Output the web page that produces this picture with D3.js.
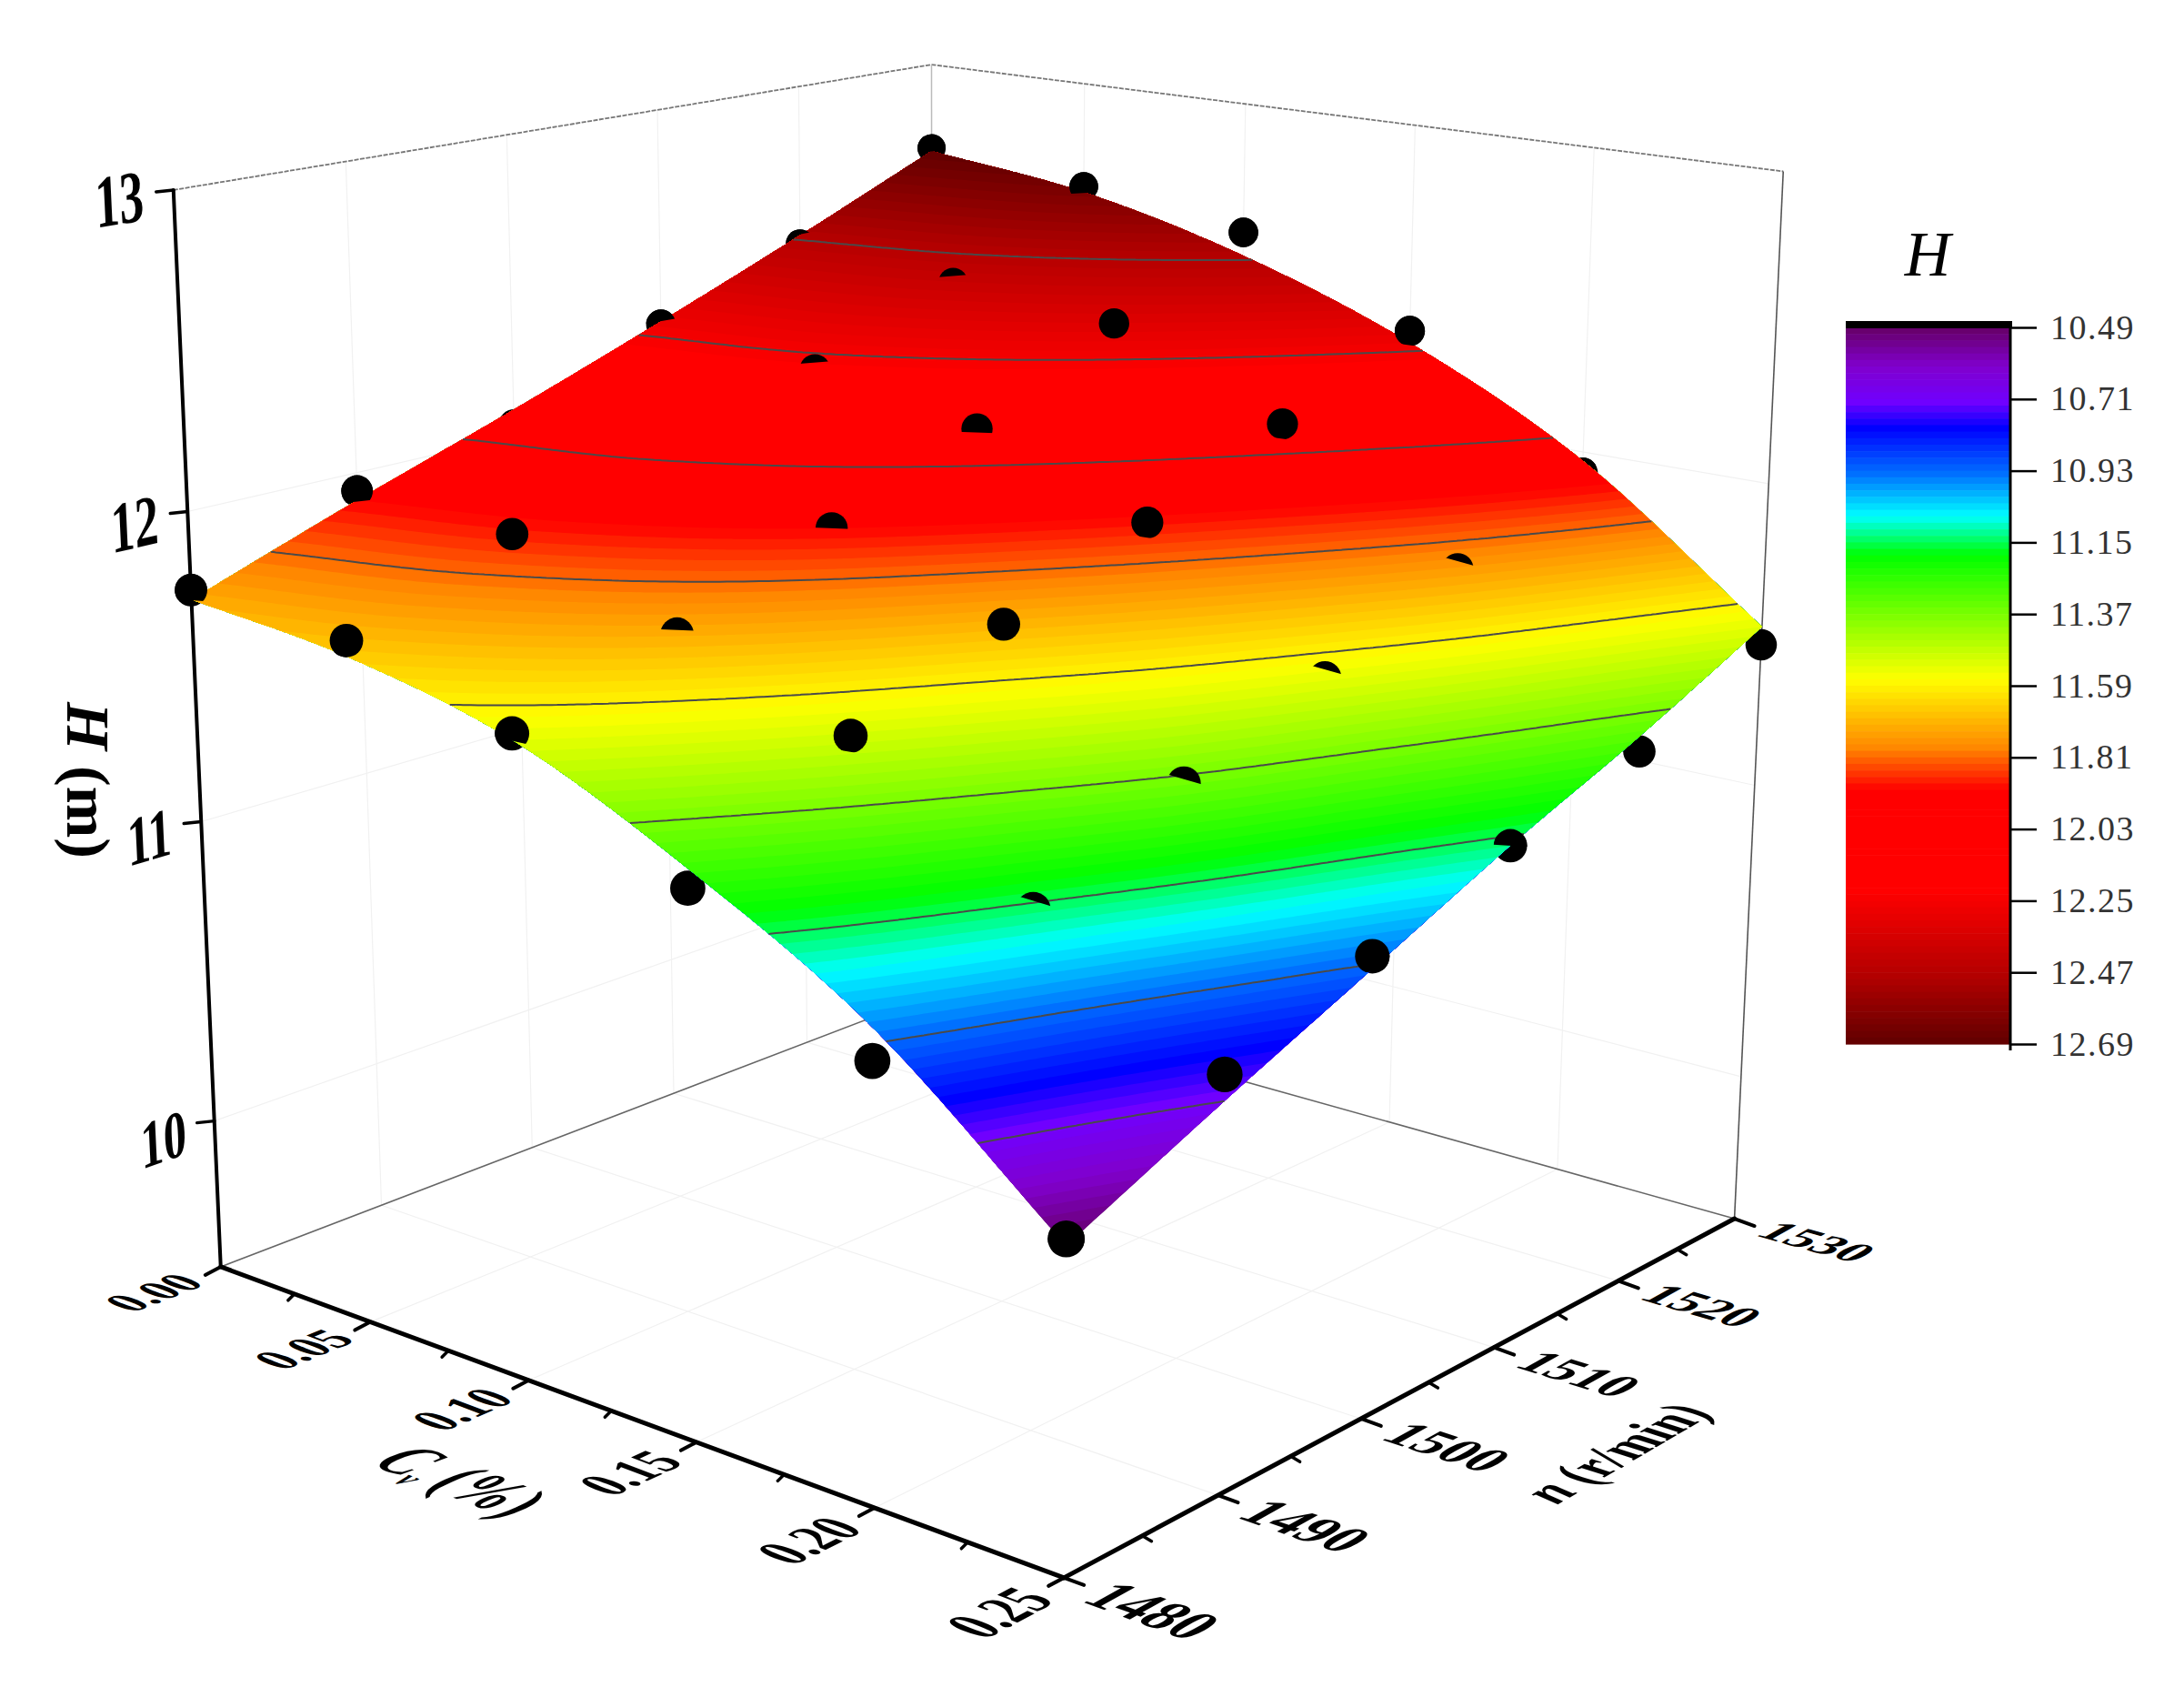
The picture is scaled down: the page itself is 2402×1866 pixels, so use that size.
<!DOCTYPE html>
<html>
<head>
<meta charset="utf-8">
<script src="https://cdn.jsdelivr.net/npm/d3@7"></script>
<style>
  body { margin: 0; background: #fff; }
  text { font-family: "Liberation Serif", serif; }
</style>
</head>
<body>
<script>
// axis ticks
const cvTicks = [0, 0.05, 0.10, 0.15, 0.20, 0.25];
const cvMinor = [0.025, 0.075, 0.125, 0.175, 0.225];
const nTicks = [1480, 1490, 1500, 1510, 1520, 1530];
const nMinor = [1485, 1495, 1505, 1515, 1525];
const hTicks = [10, 11, 12, 13];
const legendTicks = [10.49, 10.71, 10.93, 11.15, 11.37, 11.59, 11.81, 12.03, 12.25, 12.47, 12.69];

// colour map
const colorLevels = [10.49, 10.61, 10.72, 10.80, 10.94, 11.07, 11.19, 11.38, 11.57, 11.78, 11.91, 12.22, 12.49, 12.69];
const colorValues = ["#660066", "#8000cc", "#7000ff", "#0000ff", "#0070ff", "#00ffff", "#00ff00", "#80ff00", "#ffff00", "#ff8800", "#ff0000", "#ff0000", "#b00000", "#600000"];

// fitted surface, one row per n, one column per Cv
const surf1480 = [11.72, 11.66, 11.53, 11.28, 10.96, 10.49];
const surf1490 = [11.91, 11.85, 11.72, 11.48, 11.15, 10.71];
const surf1500 = [12.09, 12.04, 11.91, 11.67, 11.36, 10.92];
const surf1510 = [12.28, 12.23, 12.10, 11.87, 11.55, 11.13];
const surf1520 = [12.48, 12.42, 12.29, 12.07, 11.76, 11.32];
const surf1530 = [12.69, 12.62, 12.48, 12.27, 11.97, 11.53];
const surfaceH = [surf1480, surf1490, surf1500, surf1510, surf1520, surf1530];

// measured points, same layout
const meas1480 = [11.75, 11.71, 11.55, 11.22, 10.86, 10.51];
const meas1490 = [11.94, 11.91, 11.71, 11.52, 11.13, 10.79];
const meas1500 = [12.04, 11.98, 11.91, 11.72, 11.35, 10.96];
const meas1510 = [12.27, 12.21, 12.11, 11.91, 11.53, 11.13];
const meas1520 = [12.45, 12.40, 12.35, 12.11, 11.74, 11.27];
const meas1530 = [12.70, 12.64, 12.56, 12.31, 11.93, 11.47];
const measuredH = [meas1480, meas1490, meas1500, meas1510, meas1520, meas1530];

const width = 2402, height = 1866;

const svg = d3.select("body").append("svg")
  .attr("width", width)
  .attr("height", height)
  .style("display", "block");

// data -> unit cube
const uScale = d3.scaleLinear().domain([0, 0.25]).range([0, 1]);
const vScale = d3.scaleLinear().domain([1480, 1530]).range([0, 1]);
const wScale = d3.scaleLinear().domain([9.5, 13]).range([0, 1]);

// the camera: a perspective map fitted to where the box corners sit on the page
const cameraRefs = [
  [0, 0, 0, 242, 1391], [1, 0, 0, 1170, 1733], [1, 1, 0, 1907, 1342], [0, 1, 0, 1028, 1091],
  [0, 0, 1, 192, 207], [0, 1, 1, 1022, 72], [1, 1, 1, 1962, 188],
  [0, 0, wScale(10), 234, 1236], [0, 0, wScale(11), 221, 906], [0, 0, wScale(12), 208, 562]
];

function fitCamera(refs) {
  const rows = [], rhs = [];
  refs.forEach(([u, v, w, X, Y]) => {
    rows.push([u, v, w, 1, 0, 0, 0, 0, -X * u, -X * v, -X * w]); rhs.push(X);
    rows.push([0, 0, 0, 0, u, v, w, 1, -Y * u, -Y * v, -Y * w]); rhs.push(Y);
  });
  const n = 11;
  const M = d3.range(n).map(i => d3.range(n + 1).map(j =>
    d3.sum(rows, (r, k) => r[i] * (j < n ? r[j] : rhs[k]))));
  for (let i = 0; i < n; i++) {
    let p = i;
    for (let k = i; k < n; k++) if (Math.abs(M[k][i]) > Math.abs(M[p][i])) p = k;
    [M[i], M[p]] = [M[p], M[i]];
    for (let k = 0; k < n; k++) {
      if (k === i) continue;
      const f = M[k][i] / M[i][i];
      for (let j = i; j <= n; j++) M[k][j] -= f * M[i][j];
    }
  }
  return M.map((r, i) => r[n] / r[i]);
}
const cam = fitCamera(cameraRefs);
const depth = (u, v, w) => cam[8] * u + cam[9] * v + cam[10] * w + 1;
const project = (u, v, w) => {
  const d = depth(u, v, w);
  return [(cam[0] * u + cam[1] * v + cam[2] * w + cam[3]) / d,
          (cam[4] * u + cam[5] * v + cam[6] * w + cam[7]) / d];
};
const line3d = (a, b) => "M" + project(...a) + "L" + project(...b);

// smooth surface through the 6x6 table
function tableAt(i, j) {
  const last = surfaceH.length - 1;
  if (j < 0) return 2 * tableAt(i, 0) - tableAt(i, 1);
  if (j > last) return 2 * tableAt(i, last) - tableAt(i, last - 1);
  if (i < 0) return 2 * surfaceH[j][0] - surfaceH[j][1];
  if (i > last) return 2 * surfaceH[j][last] - surfaceH[j][last - 1];
  return surfaceH[j][i];
}
const catmull = (a, b, c, d, t) =>
  0.5 * (2 * b + (c - a) * t + (2 * a - 5 * b + 4 * c - d) * t * t + (3 * b - a - 3 * c + d) * t * t * t);
function surfaceAt(u, v) {
  const x = Math.max(0, Math.min(1, u)) * 5, y = Math.max(0, Math.min(1, v)) * 5;
  const i = Math.min(4, Math.floor(x)), j = Math.min(4, Math.floor(y));
  const row = k => catmull(tableAt(i - 1, k), tableAt(i, k), tableAt(i + 1, k), tableAt(i + 2, k), x - i);
  return catmull(row(j - 1), row(j), row(j + 1), row(j + 2), y - j);
}

// colours come in steps, as on the legend
const colorScale = d3.scaleLinear().domain(colorLevels).range(colorValues).clamp(true);
const bandCount = 110;
const bandEdges = d3.range(bandCount + 1).map(d => 10.49 + d * 2.2 / bandCount);

// --- walls and floor ---
const gridColor = "#f1f1f1";
const grid = svg.append("g").attr("fill", "none").attr("stroke", gridColor).attr("stroke-width", 1.2);
cvTicks.slice(1, -1).forEach(c => {
  const u = uScale(c);
  grid.append("path").attr("d", line3d([u, 0, 0], [u, 1, 0]));
  grid.append("path").attr("d", line3d([u, 1, 0], [u, 1, 1]));
});
nTicks.slice(1, -1).forEach(n => {
  const v = vScale(n);
  grid.append("path").attr("d", line3d([0, v, 0], [1, v, 0]));
  grid.append("path").attr("d", line3d([0, v, 0], [0, v, 1]));
});
hTicks.slice(0, -1).forEach(h => {
  const w = wScale(h);
  grid.append("path").attr("d", line3d([0, 0, w], [0, 1, w]));
  grid.append("path").attr("d", line3d([0, 1, w], [1, 1, w]));
});

const frame = svg.append("g").attr("fill", "none");
frame.append("path").attr("d", line3d([0, 0, 0], [0, 1, 0]) + line3d([0, 1, 0], [1, 1, 0]))
  .attr("stroke", "#666").attr("stroke-width", 1.6);
frame.append("path").attr("d", line3d([0, 0, 1], [0, 1, 1]) + line3d([0, 1, 1], [1, 1, 1]))
  .attr("stroke", "#777").attr("stroke-width", 1.8).attr("stroke-dasharray", "5 1.5");
frame.append("path").attr("d", line3d([0, 1, 0], [0, 1, 1])).attr("stroke", "#bbb").attr("stroke-width", 1.5);
frame.append("path").attr("d", line3d([1, 1, 0], [1, 1, 1])).attr("stroke", "#555").attr("stroke-width", 1.6);

// --- axes ---
const axes = svg.append("g").attr("fill", "none").attr("stroke", "#000").attr("stroke-linecap", "round");
axes.append("path").attr("d", line3d([0, 0, 0], [0, 0, 1])).attr("stroke-width", 4);
axes.append("path").attr("d", line3d([0, 0, 0], [1, 0, 0])).attr("stroke-width", 5);
axes.append("path").attr("d", line3d([1, 0, 0], [1, 1, 0])).attr("stroke-width", 5);

const tick = (p, dx, dy, sw) => axes.append("path")
  .attr("d", `M${p}l${dx},${dy}`).attr("stroke-width", sw);
hTicks.forEach(h => tick(project(0, 0, wScale(h)), -19, 2, 3.5));
cvTicks.forEach(c => tick(project(uScale(c), 0, 0), -17, 9, 4));
cvMinor.forEach(c => tick(project(uScale(c), 0, 0), -7, 7, 3.5));
nTicks.forEach(n => tick(project(1, vScale(n), 0), 22, 8, 4));
nMinor.forEach(n => tick(project(1, vScale(n), 0), 10, 6, 3.5));

// text lying in a plane of the box: baseline and up follow the projected directions
function planeText(text, at, baseDir, upDir, baseEm, upEm) {
  const e = 0.001;
  const diff = dir => {
    const a = project(at[0] - dir[0] * e, at[1] - dir[1] * e, at[2] - dir[2] * e);
    const b = project(at[0] + dir[0] * e, at[1] + dir[1] * e, at[2] + dir[2] * e);
    return [(b[0] - a[0]) / (2 * e), (b[1] - a[1]) / (2 * e)];
  };
  const b = diff(baseDir), up = diff(upDir), p = project(...at);
  const m = [b[0] * baseEm / 100, b[1] * baseEm / 100, -up[0] * upEm / 100, -up[1] * upEm / 100, p[0], p[1]];
  return svg.append("text")
    .attr("transform", `matrix(${m.join(",")})`)
    .attr("text-anchor", "middle")
    .attr("dy", "0.34em")
    .attr("font-size", 100)
    .attr("font-weight", "bold")
    .text(text);
}

hTicks.forEach(h => planeText(String(h), [0, -0.06, wScale(h)], [0, 1, 0], [0, 0, 1], 0.053, 0.064));
cvTicks.forEach(c => planeText(c.toFixed(2), [uScale(c), -0.08, 0], [0, 1, 0], [-1, 0, 0], 0.05, 0.065));
nTicks.forEach(n => planeText(String(n), [1.09, vScale(n), 0], [1, 0, 0], [0, 1, 0], 0.054, 0.07));

const cvTitle = planeText("", [0.505, -0.18, 0], [1, 0, 0], [0, 1, 0], 0.058, 0.08);
cvTitle.append("tspan").attr("font-style", "italic").text("C");
cvTitle.append("tspan").attr("font-style", "italic").attr("font-size", 50).attr("dy", "0.3em").text("v");
cvTitle.append("tspan").attr("dy", "-0.15em").text(" (%)");

const nTitle = planeText("", [1.204, 0.481, 0], [0, 1, 0], [-1, 0, 0], 0.062, 0.06);
nTitle.append("tspan").attr("font-style", "italic").text("n");
nTitle.append("tspan").text(" (r/min)");

const hTitle = svg.append("text")
  .attr("transform", "translate(97,858) rotate(90)")
  .attr("text-anchor", "middle")
  .attr("dy", "0.34em")
  .attr("font-size", 68)
  .attr("font-weight", "bold");
hTitle.append("tspan").attr("font-style", "italic").text("H");
hTitle.append("tspan").text(" (m)");

// --- measured points ---
const points = [];
measuredH.forEach((row, j) => row.forEach((h, i) => {
  points.push({ id: `p${i}_${j}`, u: uScale(cvTicks[i]), v: vScale(nTicks[j]), w: wScale(h) });
}));
const radius = d => 17.2 / depth(d.u, d.v, d.w);

// whole discs go under the surface, so what sticks out past its edge stays visible
svg.append("g").selectAll("circle").data(points).enter().append("circle")
  .attr("cx", d => project(d.u, d.v, d.w)[0])
  .attr("cy", d => project(d.u, d.v, d.w)[1])
  .attr("r", radius)
  .attr("fill", "#000");

// --- surface, stacked from low to high ---
const nx = 201, ny = 201;
const dense = new Float64Array(nx * ny);
for (let j = 0; j < ny; j++) {
  for (let i = 0; i < nx; i++) dense[i + j * nx] = surfaceAt(i / (nx - 1), j / (ny - 1));
}
const contours = d3.contours().size([nx, ny]);
const toCube = c => {
  const a = Math.max(0, Math.min(1, (c[0] - 0.5) / (nx - 1)));
  const b = Math.max(0, Math.min(1, (c[1] - 0.5) / (ny - 1)));
  return [a, b];
};
const ringPath = ring => "M" + ring.map(c => {
  const [a, b] = toCube(c);
  return project(a, b, wScale(surfaceAt(a, b))).map(d => d.toFixed(1));
}).join("L") + "Z";

const surface = svg.append("g");
[-Infinity].concat(bandEdges.slice(1, -1)).forEach((edge, k) => {
  const level = edge === -Infinity ? 0 : edge;
  const shape = contours.thresholds([level])(dense)[0];
  surface.append("path")
    .attr("d", shape.coordinates.map(poly => poly.map(ringPath).join("")).join(""))
    .attr("fill-rule", "evenodd")
    .attr("fill", colorScale((bandEdges[k] + bandEdges[k + 1]) / 2))
    .attr("stroke", "none");
});

// contour lines at the legend values, without the parts running along the border
const contourLines = svg.append("g")
  .attr("fill", "none").attr("stroke", "#4a4a4a").attr("stroke-width", 2);
legendTicks.slice(1, -1).forEach(level => {
  const shape = contours.thresholds([level])(dense)[0];
  let d = "";
  shape.coordinates.forEach(poly => poly.forEach(ring => {
    for (let k = 1; k < ring.length; k++) {
      const a = toCube(ring[k - 1]), b = toCube(ring[k]);
      if ((a[0] === b[0] && (a[0] === 0 || a[0] === 1)) || (a[1] === b[1] && (a[1] === 0 || a[1] === 1))) continue;
      const pa = project(a[0], a[1], wScale(level)), pb = project(b[0], b[1], wScale(level));
      d += "M" + pa.map(x => x.toFixed(1)) + "L" + pb.map(x => x.toFixed(1));
    }
  }));
  contourLines.append("path").attr("d", d);
});

// the part of each ball in front of the surface: cut where the surface has the same depth as the centre
const surfDepth = (a, b) => depth(a, b, wScale(surfaceAt(a, b)));
const defs = svg.append("defs");
points.forEach(p => {
  const target = depth(p.u, p.v, p.w);
  let a = p.u, b = p.v, ga = 0, gb = 0;
  const e = 0.01;
  for (let it = 0; it < 6; it++) {
    ga = (surfDepth(a + e, b) - surfDepth(a - e, b)) / (2 * e);
    gb = (surfDepth(a, b + e) - surfDepth(a, b - e)) / (2 * e);
    const step = (target - surfDepth(a, b)) / (ga * ga + gb * gb);
    a += ga * step;
    b += gb * step;
  }
  const q = project(a, b, wScale(surfaceAt(a, b)));
  const t1 = project(a - gb * e, b + ga * e, wScale(surfaceAt(a - gb * e, b + ga * e)));
  const t0 = project(a + gb * e, b - ga * e, wScale(surfaceAt(a + gb * e, b - ga * e)));
  const s1 = project(a + ga * e, b + gb * e, wScale(surfaceAt(a + ga * e, b + gb * e)));
  let tx = t1[0] - t0[0], ty = t1[1] - t0[1];
  const tl = Math.hypot(tx, ty);
  tx /= tl; ty /= tl;
  // normal to the cut, pointing to where the surface is further away than the ball
  let nxs = -ty, nys = tx;
  if (nxs * (s1[0] - q[0]) + nys * (s1[1] - q[1]) < 0) { nxs = -nxs; nys = -nys; }
  const big = 200;
  const poly = [
    [q[0] - tx * big, q[1] - ty * big],
    [q[0] + tx * big, q[1] + ty * big],
    [q[0] + tx * big + nxs * big, q[1] + ty * big + nys * big],
    [q[0] - tx * big + nxs * big, q[1] - ty * big + nys * big]
  ];
  defs.append("clipPath").attr("id", p.id).append("polygon").attr("points", poly.join(" "));
});
svg.append("g").selectAll("circle").data(points).enter().append("circle")
  .attr("cx", d => project(d.u, d.v, d.w)[0])
  .attr("cy", d => project(d.u, d.v, d.w)[1])
  .attr("r", radius)
  .attr("fill", "#000")
  .attr("clip-path", d => `url(#${d.id})`);

// --- legend ---
const legendY = d3.scaleLinear().domain([10.49, 12.69]).range([360, 1148]);
const legendLeft = 2030, legendRight = 2211;
const legend = svg.append("g");
legend.selectAll("rect.band").data(d3.pairs(bandEdges)).enter().append("rect")
  .attr("class", "band")
  .attr("x", legendLeft)
  .attr("width", legendRight - legendLeft)
  .attr("y", d => legendY(d[0]))
  .attr("height", d => legendY(d[1]) - legendY(d[0]) + 0.6)
  .attr("fill", d => colorScale((d[0] + d[1]) / 2));
legend.append("rect").attr("x", legendLeft).attr("y", 353).attr("width", legendRight - legendLeft + 2).attr("height", 8).attr("fill", "#000");

const legendAxis = legend.append("g")
  .attr("transform", `translate(${legendRight},0)`)
  .call(d3.axisRight(legendY).tickValues(legendTicks).tickFormat(d3.format(".2f")).tickSize(29).tickPadding(15));
legendAxis.select(".domain").attr("stroke", "#000").attr("stroke-width", 3).attr("d", "M0,353V1155");
legendAxis.selectAll(".tick line").attr("stroke", "#000").attr("stroke-width", 2.5);
legendAxis.selectAll(".tick text")
  .attr("fill", "#333")
  .attr("font-size", 38)
  .attr("letter-spacing", 1.5);

legend.append("text")
  .attr("x", 2120).attr("y", 303)
  .attr("text-anchor", "middle")
  .attr("font-size", 70)
  .attr("font-style", "italic")
  .text("H");
</script>
</body>
</html>
